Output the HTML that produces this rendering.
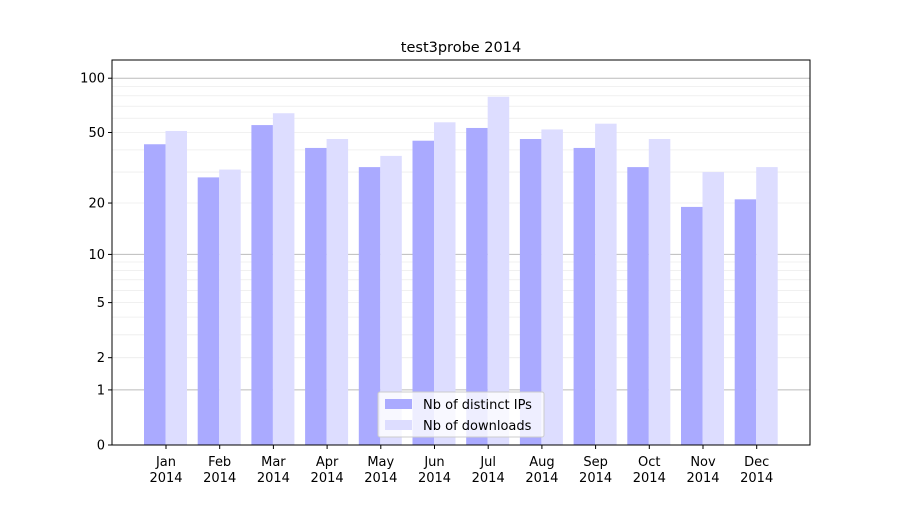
<!DOCTYPE html>
<html><head><meta charset="utf-8"><style>
body{margin:0;background:#fff;font-family:"Liberation Sans","DejaVu Sans",sans-serif}
text{font-family:"DejaVu Sans","Liberation Sans",sans-serif}
</style></head><body>
<svg id="chart" width="900" height="500" xmlns="http://www.w3.org/2000/svg">
<rect width="900" height="500" fill="#fff"/>
<text x="461" y="52" font-size="14.5" text-anchor="middle">test3probe 2014</text>
<g id="grid"></g><g id="bars"></g><g id="axes"></g>
<g>
<rect x="378" y="392" width="166" height="45" fill="#fff" fill-opacity="0.8" stroke="#ccc" rx="2"/>
<rect x="385" y="399" width="27" height="10" fill="#aaaaff"/>
<text x="423" y="409" font-size="13">Nb of distinct IPs</text>
<rect x="385" y="420" width="27" height="10" fill="#ddddff"/>
<text x="423" y="430" font-size="13">Nb of downloads</text>
</g>
</svg>
<script>
const months=["Jan","Feb","Mar","Apr","May","Jun","Jul","Aug","Sep","Oct","Nov","Dec"];
const distinctIPs=[43,28,55,41,32,45,53,46,41,32,19,21];
const downloads=[51,31,64,46,37,57,79,52,56,46,30,32];
const yTicks=[0,1,2,5,10,20,50,100];
const NS="http://www.w3.org/2000/svg";
const L=112,R=810,T=60,B=445;
function y(v){return B-183*Math.log10(1+v);}
function xc(i){return 166+i*53.7;}
function mk(tag,attrs,parent){const e=document.createElementNS(NS,tag);for(const k in attrs)e.setAttribute(k,attrs[k]);document.getElementById(parent).appendChild(e);return e;}
// grid
for(let d=1;d<=100;d*=10){for(let m=1;m<10;m++){const v=d*m;if(v>126)break;const major=m===1;
const g=mk("line",{x1:L,x2:R,y1:y(v),y2:y(v),stroke:major?"#bbb":"#ececec","stroke-width":major?1:0.8},"grid");

}}
// bars
months.forEach((m,i)=>{
const a=mk("rect",{x:xc(i)-22,y:y(distinctIPs[i]),width:21.5,height:B-y(distinctIPs[i]),fill:"#aaaaff"},"bars");


const b=mk("rect",{x:xc(i)-0.5,y:y(downloads[i]),width:21.5,height:B-y(downloads[i]),fill:"#ddddff"},"bars");


const t1=mk("text",{x:xc(i),y:466,"font-size":13,"text-anchor":"middle"},"axes");t1.textContent=m;


const t2=mk("text",{x:xc(i),y:482,"font-size":13,"text-anchor":"middle"},"axes");t2.textContent="2014";


mk("line",{x1:xc(i),x2:xc(i),y1:B,y2:B+4,stroke:"#000"},"axes");
});
yTicks.forEach(v=>{
mk("line",{x1:L-4,x2:L,y1:y(v),y2:y(v),stroke:"#000"},"axes");
const t=mk("text",{x:L-7,y:y(v)+4.5,"font-size":13,"text-anchor":"end"},"axes");t.textContent=v;


});
const f=mk("rect",{x:L,y:T,width:R-L,height:B-T,fill:"none",stroke:"#000","stroke-width":1},"axes");


</script>
</body></html>
